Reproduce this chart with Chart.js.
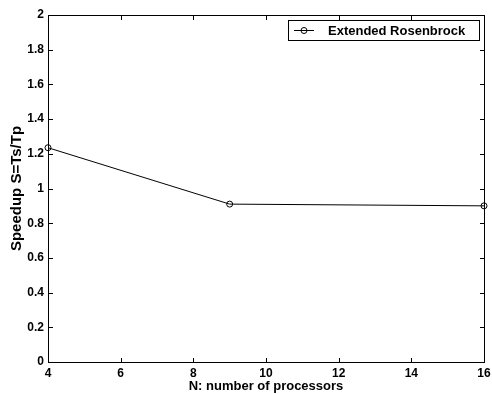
<!DOCTYPE html>
<html>
<head>
<meta charset="utf-8">
<script src="https://cdn.jsdelivr.net/npm/chart.js@4/dist/chart.umd.min.js"></script>
<style>
  html, body { margin: 0; padding: 0; background: #fff; }
</style>
</head>
<body>
<canvas id="grafico" width="492" height="394"></canvas>
<script>
const processors = [4, 9, 16];
const speedup = [1.235, 0.91, 0.90];
const seriesName = 'Extended Rosenbrock';
const xTicks = [4, 6, 8, 10, 12, 14, 16];
const yTicks = [0, 0.2, 0.4, 0.6, 0.8, 1, 1.2, 1.4, 1.6, 1.8, 2];

const FONT = 'Liberation Sans, Arial, sans-serif';

// box frame, inward ticks on all four sides and the legend box
const matlabFrame = {
  id: 'matlabFrame',
  afterDraw(chart) {
    const ctx = chart.ctx;
    const a = chart.chartArea;
    const x = chart.scales.x, y = chart.scales.y;
    const L = Math.round(a.left), R = Math.round(a.right);
    const T = Math.round(a.top), B = Math.round(a.bottom);
    ctx.save();
    ctx.fillStyle = '#000';
    ctx.fillRect(L, T, R - L + 1, 1);
    ctx.fillRect(L, B, R - L + 1, 1);
    ctx.fillRect(L, T, 1, B - T + 1);
    ctx.fillRect(R, T, 1, B - T + 1);

    const t = 4;
    xTicks.forEach(v => {
      const px = Math.round(x.getPixelForValue(v));
      ctx.fillRect(px, B - t, 1, t);
      ctx.fillRect(px, T + 1, 1, t);
    });
    yTicks.forEach(v => {
      const py = Math.round(y.getPixelForValue(v));
      ctx.fillRect(L + 1, py, t, 1);
      ctx.fillRect(R - t, py, t, 1);
    });

    // legend
    const bw = 191, bh = 20;
    const bx = R - 5 - bw, by = T + 5;
    ctx.fillStyle = '#fff';
    ctx.fillRect(bx, by, bw, bh);
    ctx.fillStyle = '#000';
    ctx.fillRect(bx, by, bw + 1, 1);
    ctx.fillRect(bx, by + bh, bw + 1, 1);
    ctx.fillRect(bx, by, 1, bh);
    ctx.fillRect(bx + bw, by, 1, bh);
    const ly = by + bh / 2;
    ctx.fillRect(bx + 6, Math.round(ly), 20, 1);
    ctx.strokeStyle = '#000';
    ctx.lineWidth = 1;
    ctx.beginPath();
    ctx.arc(bx + 16, Math.round(ly) + 0.5, 3, 0, Math.PI * 2);
    ctx.stroke();
    ctx.font = 'bold 13px ' + FONT;
    ctx.textBaseline = 'middle';
    ctx.fillText(chart.data.datasets[0].label, bx + 40, ly + 1);
    ctx.restore();
  }
};

new Chart(document.getElementById('grafico'), {
  type: 'line',
  data: {
    datasets: [{
      label: seriesName,
      data: processors.map((p, i) => ({ x: p, y: speedup[i] })),
      borderColor: '#000',
      borderWidth: 1,
      tension: 0,
      clip: false,
      pointRadius: 3,
      pointBorderWidth: 1,
      pointBorderColor: '#000',
      pointBackgroundColor: 'rgba(0,0,0,0)'
    }]
  },
  options: {
    responsive: false,
    animation: false,
    layout: { padding: { top: 15, right: 8, left: 0, bottom: 0 } },
    plugins: {
      legend: { display: false },
      tooltip: { enabled: false }
    },
    scales: {
      x: {
        type: 'linear',
        min: 4, max: 16,
        afterBuildTicks: s => { s.ticks = xTicks.map(v => ({ value: v })); },
        afterFit: s => { s.height = 32; s.paddingLeft = 0; s.paddingRight = 0; },
        grid: { display: false, drawTicks: false, tickLength: 0 },
        border: { display: false },
        ticks: {
          color: '#000', padding: 4,
          font: { family: FONT, size: 12, weight: 'bold' }
        },
        title: {
          display: true, text: 'N: number of processors', color: '#000',
          padding: { top: 1, bottom: 0 },
          font: { family: FONT, size: 13, weight: 'bold' }
        }
      },
      y: {
        min: 0, max: 2,
        afterBuildTicks: s => { s.ticks = yTicks.map(v => ({ value: v })); },
        afterFit: s => { s.width = 48; s.paddingTop = 0; s.paddingBottom = 0; },
        grid: { display: false, drawTicks: false, tickLength: 0 },
        border: { display: false },
        ticks: {
          color: '#000', padding: 4,
          font: { family: FONT, size: 12, weight: 'bold' },
          callback: v => String(Number(v.toFixed(1)))
        },
        title: {
          display: true, text: 'Speedup S=Ts/Tp', color: '#000',
          padding: { top: 8, bottom: 0 },
          font: { family: FONT, size: 15, weight: 'bold' }
        }
      }
    }
  },
  plugins: [matlabFrame]
});
</script>
</body>
</html>
